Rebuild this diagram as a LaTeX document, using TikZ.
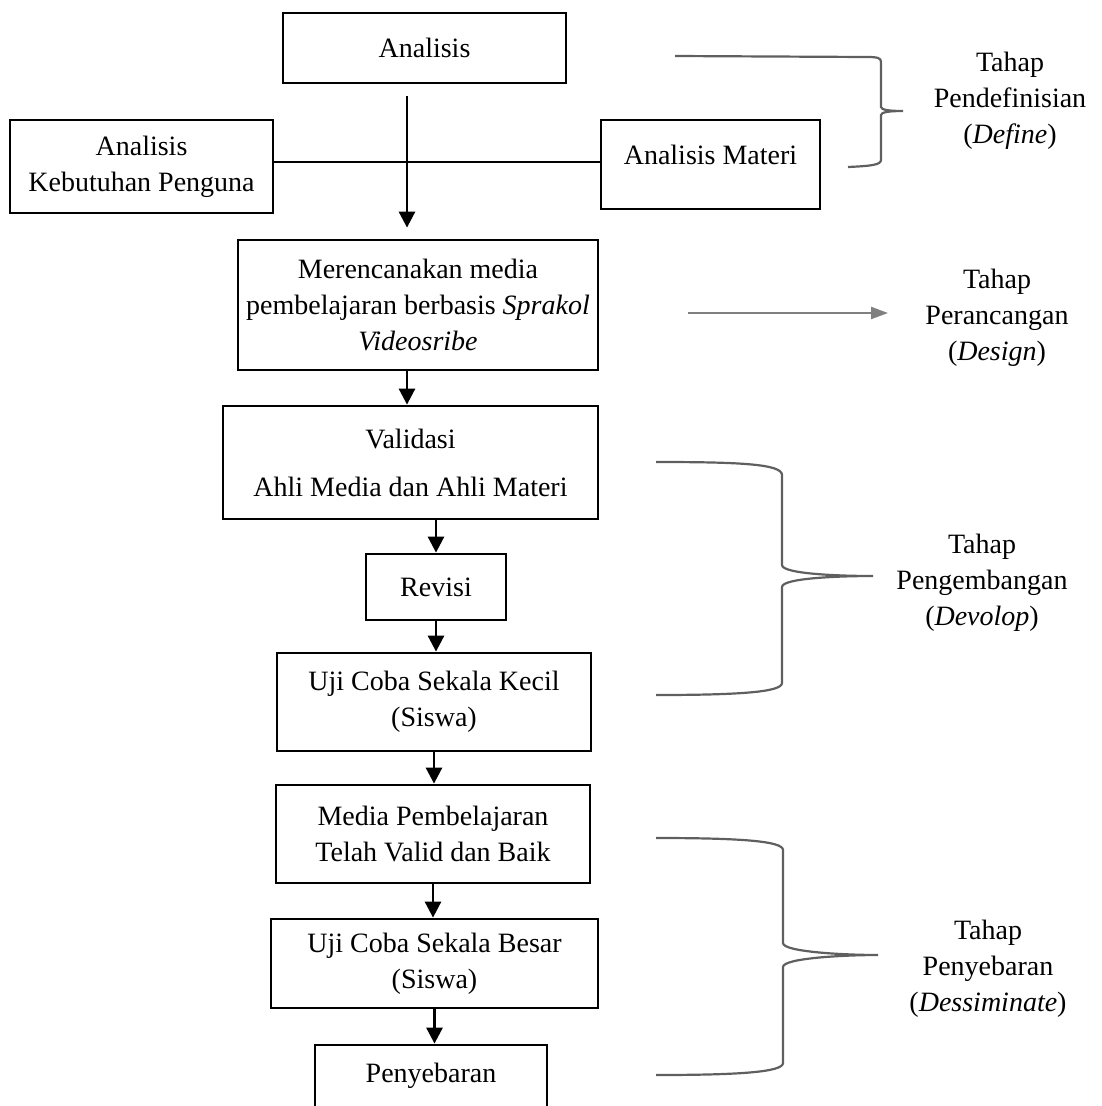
\documentclass[tikz,border=0pt]{standalone}
\usepackage{fontspec}
\setmainfont{Liberation Serif}
\usetikzlibrary{arrows.meta}
\definecolor{bracegray}{RGB}{95,95,95}
\definecolor{arrowgray}{RGB}{128,128,128}
\tikzset{
  box/.style={draw, line width=2.8pt, inner sep=0pt, align=center, font=\fontsize{28}{36}\selectfont},
  arr/.style={line width=2.8pt, -{Triangle[length=16pt,width=16pt]}},
  garr/.style={draw=arrowgray, line width=2.2pt, -{Triangle[length=17pt,width=12pt]}},
  brace/.style={draw=bracegray, line width=2.2pt},
  tahap/.style={align=center, font=\fontsize{28}{36}\selectfont}
}
\begin{document}
\begin{tikzpicture}[x=1pt,y=-1pt]
\clip (0,0) rectangle (1102,1106);
\node[box, minimum width=283pt, minimum height=70pt] (ana) at (424.5,48) {Analisis};
\node[box, minimum width=263pt, minimum height=93pt] (akp) at (141.5,166.5) {Analisis\\Kebutuhan Penguna};
\node[box, minimum width=219pt, minimum height=89pt, text depth=20pt] (amat) at (710.5,164.5) {Analisis Materi};
\node[box, minimum width=360pt, minimum height=130pt] (mer) at (418,305) {Merencanakan media\\pembelajaran berbasis \textit{Sprakol}\\\textit{Videosribe}};
\node[box, minimum width=375pt, minimum height=113pt] (val) at (410.5,462.5) {Validasi\\[12pt]Ahli Media dan Ahli Materi};
\node[box, minimum width=140pt, minimum height=66pt] (rev) at (436,587) {Revisi};
\node[box, minimum width=314pt, minimum height=98pt] (ujk) at (434,702) {Uji Coba Sekala Kecil\\(Siswa)};
\node[box, minimum width=314pt, minimum height=98pt] (med) at (433,834) {Media Pembelajaran\\Telah Valid dan Baik};
\node[box, minimum width=327pt, minimum height=89pt] (ujb) at (434.5,963.5) {Uji Coba Sekala Besar\\(Siswa)};
\node[box, minimum width=232pt, minimum height=80pt, text depth=24pt] (pen) at (431,1085) {Penyebaran};
\node[tahap] (ldef) at (1010,101) {Tahap\\Pendefinisian\\(\textit{Define})};
\node[tahap] (lper) at (997,318) {Tahap\\Perancangan\\(\textit{Design})};
\node[tahap] (ldev) at (982,583) {Tahap\\Pengembangan\\(\textit{Devolop})};
\node[tahap] (ldis) at (988,969) {Tahap\\Penyebaran\\(\textit{Dessiminate})};
\coordinate (d0) at (688,313);
\coordinate (d1) at (888,313);
\draw [line width=2.8pt] (akp.east |- 0,162) -- (amat.west |- 0,162);
\draw [arr] ([xshift=-17.5pt,yshift=-12pt]ana.south) -- ([xshift=-11pt,yshift=11pt]mer.north);
\draw [arr] ([xshift=-11pt]mer.south) -- ([xshift=-11pt]mer.south |- val.north);
\draw [arr] (val.south -| rev.north) -- (rev.north);
\draw [arr] (rev.south) -- (rev.south |- ujk.north);
\draw [arr] (ujk.south) -- (ujk.south |- med.north);
\draw [arr] (med.south) -- (med.south |- ujb.north);
\draw [arr] (ujb.south) -- (ujb.south |- pen.north);
\draw [garr] (d0) -- (d1);
\draw [brace] (675,56) -- (867,57) .. controls (878,57) and (881,58) .. (881,62) -- (881,107) .. controls (881,110) and (890,111) .. (903,111) .. controls (890,111) and (881,112) .. (881,115) -- (881,160) .. controls (881,165) and (870,166) .. (848,167);
\draw [brace] (656,462) .. controls (740,462) and (782,464) .. (782,475) -- (782,565) .. controls (782,574) and (840,576) .. (873,576) .. controls (840,576) and (782,578) .. (782,587) -- (782,683) .. controls (782,692) and (740,695) .. (656,695);
\draw [brace] (656,838) .. controls (740,838) and (783,841) .. (783,850) -- (783,943) .. controls (783,952) and (845,955) .. (878,955) .. controls (845,955) and (783,958) .. (783,967) -- (783,1063) .. controls (783,1072) and (740,1075) .. (656,1075);
\end{tikzpicture}
\end{document}
